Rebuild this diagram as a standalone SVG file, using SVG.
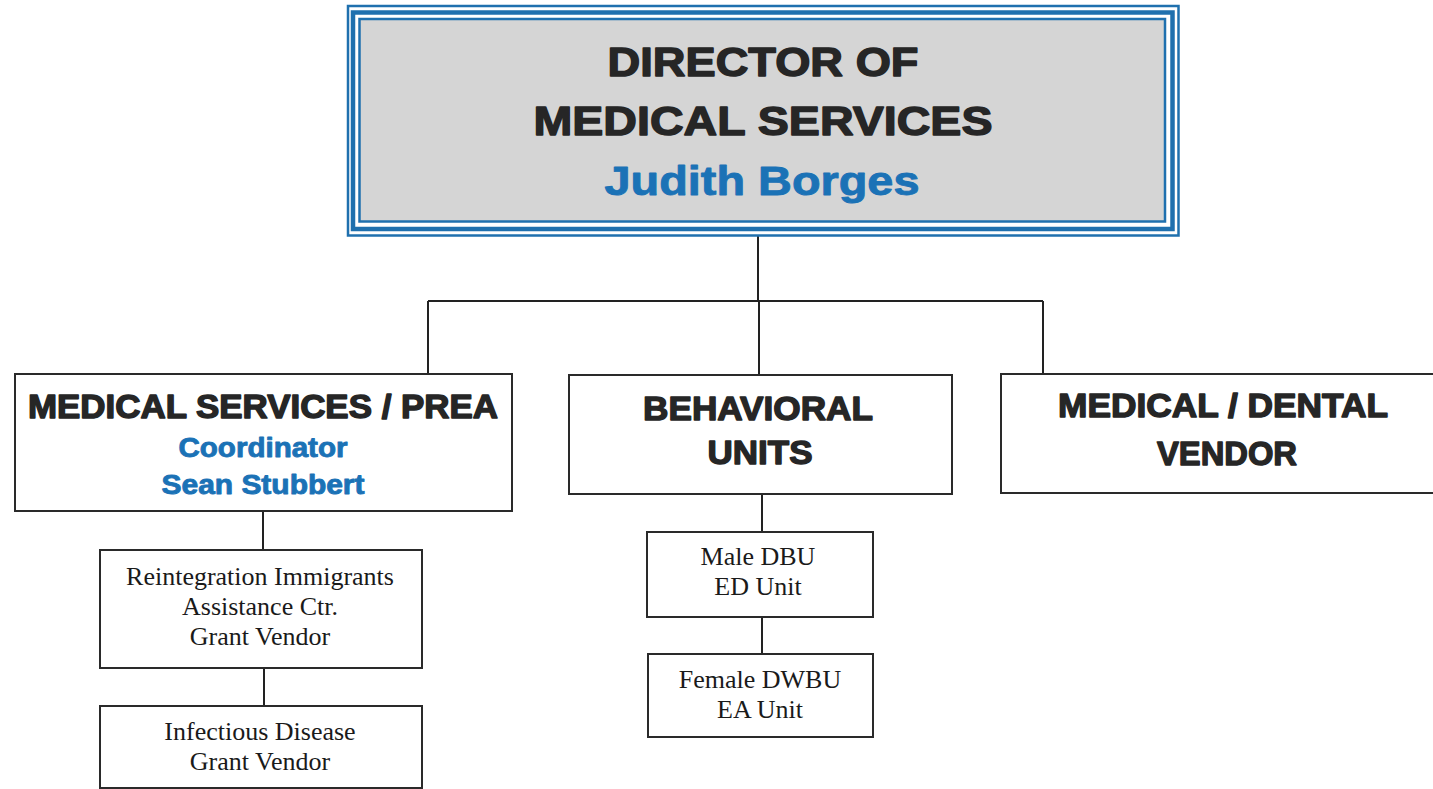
<svg xmlns="http://www.w3.org/2000/svg" width="1433" height="789" viewBox="0 0 1433 789">
<style>
.bg{fill:#ffffff}
.box{fill:#ffffff;stroke:#2a2a2a;stroke-width:2}
.conn{fill:none;stroke:#222;stroke-width:2}
.blue{fill:none;stroke:#1f70ae}
.hd{font-family:"Liberation Sans",Arial,sans-serif;font-weight:bold;fill:#262626;stroke:#262626;stroke-width:1.4;stroke-linejoin:round;text-anchor:middle}
.nm{font-family:"Liberation Sans",Arial,sans-serif;font-weight:bold;fill:#1b72b6;stroke:#1b72b6;stroke-width:0.9;stroke-linejoin:round;text-anchor:middle}
.sm{font-family:"Liberation Serif","Times New Roman",serif;font-size:26px;fill:#1a1a1a;text-anchor:middle}
</style>
<rect class="bg" x="0" y="0" width="1433" height="789"/>
<g id="connectors">
<path class="conn" d="M758 236 V301 M428 301 H1043 M428 301 V374 M759 301 V375 M1043 301 V374"/>
<path class="conn" d="M263 511 V550 M264 668 V706"/>
<path class="conn" d="M762 494 V532 M762 617 V654"/>
</g>
<g id="director">
<rect x="359.5" y="19" width="805.5" height="202.5" fill="#d5d5d5"/>
<rect class="blue" x="348" y="6" width="830.5" height="229.5" stroke-width="2.5"/>
<rect class="blue" x="353" y="12.5" width="819.5" height="216.5" stroke-width="4.5"/>
<rect class="blue" x="359.5" y="19" width="805.5" height="202.5" stroke-width="2.5"/>
<text class="hd" x="763" y="76" font-size="41" stroke-width="1.8" textLength="311" lengthAdjust="spacingAndGlyphs">DIRECTOR OF</text>
<text class="hd" x="763" y="135" font-size="41" stroke-width="1.8" textLength="459" lengthAdjust="spacingAndGlyphs">MEDICAL SERVICES</text>
<text class="nm" x="762" y="195" font-size="41" stroke-width="1.4" textLength="315" lengthAdjust="spacingAndGlyphs">Judith Borges</text>
</g>
<g id="med-prea">
<rect class="box" x="15" y="374" width="497" height="137"/>
<text class="hd" x="263" y="418" font-size="33" textLength="470" lengthAdjust="spacingAndGlyphs">MEDICAL SERVICES / PREA</text>
<text class="nm" x="263" y="457" font-size="27" textLength="169" lengthAdjust="spacingAndGlyphs">Coordinator</text>
<text class="nm" x="263" y="494" font-size="27" textLength="203" lengthAdjust="spacingAndGlyphs">Sean Stubbert</text>
</g>
<g id="behavioral">
<rect class="box" x="569" y="375" width="383" height="119"/>
<text class="hd" x="758" y="420" font-size="34" textLength="230" lengthAdjust="spacingAndGlyphs">BEHAVIORAL</text>
<text class="hd" x="760" y="464" font-size="34" textLength="105" lengthAdjust="spacingAndGlyphs">UNITS</text>
</g>
<g id="med-dental">
<rect class="box" x="1001" y="374" width="440" height="119"/>
<text class="hd" x="1223" y="417" font-size="34" textLength="330" lengthAdjust="spacingAndGlyphs">MEDICAL / DENTAL</text>
<text class="hd" x="1227" y="465" font-size="34" textLength="140" lengthAdjust="spacingAndGlyphs">VENDOR</text>
</g>
<g id="reintegration">
<rect class="box" x="100" y="550" width="322" height="118"/>
<text class="sm" x="260" y="585" font-size="26.5">Reintegration Immigrants</text>
<text class="sm" x="260" y="615" font-size="26.5">Assistance Ctr.</text>
<text class="sm" x="260" y="645" font-size="26.5">Grant Vendor</text>
</g>
<g id="infectious">
<rect class="box" x="100" y="706" width="322" height="82"/>
<text class="sm" x="260" y="740" font-size="26.5">Infectious Disease</text>
<text class="sm" x="260" y="770" font-size="26.5">Grant Vendor</text>
</g>
<g id="male-dbu">
<rect class="box" x="647" y="532" width="226" height="85"/>
<text class="sm" x="758" y="565">Male DBU</text>
<text class="sm" x="758" y="595">ED Unit</text>
</g>
<g id="female-dwbu">
<rect class="box" x="648" y="654" width="225" height="83"/>
<text class="sm" x="760" y="688">Female DWBU</text>
<text class="sm" x="760" y="718">EA Unit</text>
</g>
</svg>
